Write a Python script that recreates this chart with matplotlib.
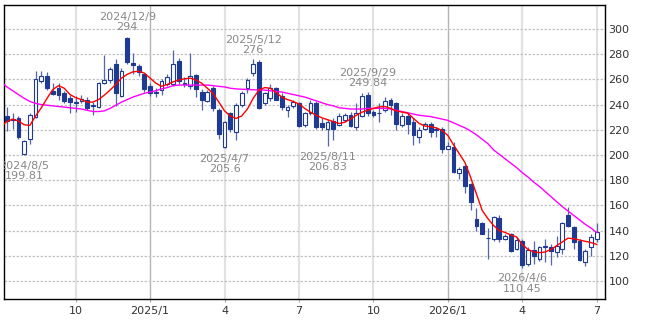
import numpy as np
import matplotlib
matplotlib.use("Agg")
import matplotlib.pyplot as plt

# weekly candles, week 0 = 2024/7/15 ... week 103 = 2026/7/6
opens = [231, 228.5, 229, 200.5, 213, 230, 258.6, 262.5, 251, 253,
         249.3, 245, 241.5, 243, 243.5, 238.5, 238.2, 257, 259.5, 272,
         246.5, 293, 273, 271, 264, 254.5, 250, 251.5, 256.5, 256,
         275, 256, 255, 263.5, 250, 243, 253, 236, 206.5, 233,
         218.5, 239.5, 253, 265, 274, 241.5, 245.5, 253, 246.5, 236,
         238.5, 241, 223.5, 233, 241, 225.5, 221, 227, 223.5, 227.5,
         231.5, 222.5, 231, 247.5, 234, 233, 236, 244, 241, 224,
         231, 226, 214, 221, 225, 219.8, 221, 205, 206, 186,
         191, 177, 149.5, 146, 134, 133, 150, 133.5, 137.5, 125,
         132, 113.5, 124.5, 117.5, 127, 127, 123, 125.5, 152, 143,
         132, 115, 127, 133]
highs = [238, 233, 231, 212, 233.5, 266.5, 267, 266, 257, 257,
         251, 247.5, 247, 247.5, 246, 242, 258, 279.5, 270, 276,
         269, 294, 281, 272, 265, 257, 252.8, 260, 264, 283.5,
         277, 262, 281, 264, 252, 251.5, 254.5, 237, 227, 234,
         241, 250.5, 261, 276, 275.5, 250, 256, 254, 249, 240,
         243.5, 242, 234.5, 243.5, 242.5, 229, 228, 229, 233, 233.5,
         234, 241, 249, 249.84, 236, 241, 246, 245, 242, 233,
         233, 229, 222, 226.5, 226.5, 222, 222, 210, 210.5, 190.5,
         192, 177.5, 158, 147, 142, 151.5, 152, 137.5, 138, 135,
         133, 127, 132, 128, 133, 129.5, 136, 147, 158.5, 144,
         133, 125.5, 137.5, 146]
lows = [219, 220.5, 213, 199.81, 209, 229.5, 257, 251.5, 247.5, 244,
        241, 233.5, 234, 241, 235.5, 232, 237.5, 256.5, 257, 239,
        246, 272.5, 264, 262.5, 250, 246.5, 246, 247.5, 255, 254.5,
        256, 254, 252, 246, 235.5, 242, 235, 213, 205.6, 218.3,
        211.7, 238, 249, 263, 236.5, 239.5, 243, 243.5, 235.5, 230,
        237.5, 222, 222, 231.5, 221, 219.5, 206.83, 212, 223, 226,
        222, 219.5, 230, 231, 230, 226, 234, 231.5, 220, 222,
        216.5, 208, 209.5, 220, 214.5, 214.5, 201.5, 204.5, 185.5, 181,
        169.5, 156.5, 140, 137, 117.5, 132, 131, 132.5, 123, 124.5,
        110.45, 112, 113.5, 116, 115, 112.5, 119, 121.5, 142.5, 125,
        116, 111.5, 119.5, 131]
closes = [227, 228, 214, 211, 232, 260, 263, 253.5, 248.5, 247.5,
          243, 242, 242, 244.5, 237.7, 239.5, 256.8, 259.5, 268, 249.5,
          266.5, 274, 271.5, 266, 252.5, 249.5, 249, 258.5, 262, 272.5,
          258.5, 257, 263, 252, 243.5, 250, 237, 217, 226, 221,
          239.5, 249, 259.5, 272.5, 237, 249, 253, 244, 238, 238,
          242, 223, 233.5, 241.5, 222, 222, 226, 221, 231, 231.5,
          223, 233.5, 246.5, 233, 232, 233.5, 243, 240, 225, 231,
          225, 215.5, 220, 225, 218.5, 221, 205, 207, 186.5, 189,
          175, 162.5, 144, 137.5, 134.5, 150.5, 133, 136, 124, 132.5,
          112.5, 124.5, 119.5, 127, 128, 124, 128, 146, 144, 131,
          117, 124, 135, 139]

# moving averages, from week -1 to week 103
ma_weeks = list(range(-1, 104))
ma_short = [223, 226.5, 228.5, 227, 224, 223.5, 231, 237.5, 245, 252, 255,
            253, 248, 245.5, 244, 242, 242, 244, 247.5, 251.5, 256,
            261, 264, 266, 266.5, 265, 261, 257, 254.5, 256, 258,
            259.5, 260.5, 261, 259.5, 257, 253, 248.8, 242, 235, 231,
            229, 231, 236.5, 245, 251.5, 253.5, 253, 249.5, 246, 244,
            242.5, 240.5, 237, 234, 231.5, 229.5, 228, 226.5, 225, 226,
            228.5, 231.5, 234, 235.5, 237, 238.2, 238.5, 237, 235, 234,
            233.2, 229, 225, 223, 222.5, 221.5, 219.5, 215.5, 208, 201,
            194, 182, 169, 156, 149.5, 144, 140, 138.5, 136.5, 135,
            129, 125, 123, 122.5, 123, 125, 128, 131, 134, 133.5,
            132.5, 131.5, 130.5, 129]
ma_long = [258, 254, 251, 248, 245, 242.5, 241, 240, 239.5, 239, 238.5,
           238, 237.5, 237, 236.5, 235.5, 234.5, 234.5, 235, 237, 239.5,
           242, 244, 246, 247.5, 249, 250, 251, 252.5, 253.5, 255,
           255.5, 255.5, 255.5, 255.5, 255.5, 255.5, 255, 254.5, 254, 253,
           252.5, 252.2, 252, 251.8, 251.6, 251.5, 251, 250.5, 250, 249,
           248, 247, 246, 244.5, 243, 241.5, 240, 239, 237.5, 237,
           236.5, 236.5, 236.5, 237, 237, 237, 237, 236.5, 235.5, 234.5,
           233.5, 232.5, 231.5, 231, 230.5, 229.5, 228.5, 227.5, 225.5, 223.5,
           221.5, 219, 216, 212.5, 209, 204, 200.5, 197, 193.5, 190,
           186, 182.5, 178.5, 175, 171, 167, 163, 159, 155.5, 152,
           148.5, 145, 142, 138.5]

tick_weeks = [12, 25, 38, 51, 64, 77, 90, 103]
tick_labels = ["10", "2025/1", "4", "7", "10", "2026/1", "4", "7"]
year_ticks = [25, 77]

# (week, high/low, date text, value)
marks = [
    (3, "low", "2024/8/5", 199.81),
    (21, "high", "2024/12/9", 294),
    (38, "low", "2025/4/7", 205.6),
    (43, "high", "2025/5/12", 276),
    (56, "low", "2025/8/11", 206.83),
    (63, "high", "2025/9/29", 249.84),
    (90, "low", "2026/4/6", 110.45),
]

body_col = "#1e3a92"
wick_col = "#5366a8"

o = np.array(opens)
h = np.array(highs)
l = np.array(lows)
c = np.array(closes)
x = np.arange(len(o))
up = c >= o

fig = plt.figure(figsize=(6.5, 3.25), dpi=100)
ax = fig.add_axes([4 / 650, 26 / 325, 601 / 650, 294.3 / 325])

ax.vlines(x, l, h, color=wick_col, lw=0.9, zorder=2)
ax.bar(x[up], np.maximum(c - o, 0.4)[up], bottom=o[up], width=0.66,
       facecolor="white", edgecolor=body_col, lw=0.8, zorder=3)
ax.bar(x[~up], (o - c)[~up], bottom=c[~up], width=0.66,
       facecolor=body_col, edgecolor=body_col, lw=0.8, zorder=3)

ax.plot(ma_weeks, ma_long, color="#ff00ff", lw=1, zorder=4)
ax.plot(ma_weeks, ma_short, color="#ff0000", lw=1, zorder=5)

for t in tick_weeks:
    if t in year_ticks:
        ax.axvline(t, color="#b4b4b4", lw=1, zorder=0)
    else:
        ax.axvline(t, color="#e2e2e2", lw=1.6, zorder=0)

ax.set_xlim(-0.52, 104.45)
ax.set_ylim(85.7, 319.3)
ax.set_xticks(tick_weeks, tick_labels)
ax.set_yticks(np.arange(100, 301, 20))
ax.yaxis.tick_right()
ax.grid(axis="y", color="#c4c4c4", lw=0.9, linestyle=(0, (2, 1.2)), zorder=0)
ax.tick_params(axis="x", length=2.5, pad=2.5, labelsize=8, colors="#333333")
ax.tick_params(axis="y", length=0, pad=2.5, labelsize=8, colors="#333333")
ax.tick_params(axis="x", color="#aaaaaa")
for s in ax.spines.values():
    s.set_color("black")
    s.set_linewidth(1)

for wk, kind, date, val in marks:
    txt = f"{date}\n{val:g}"
    if kind == "high":
        t = ax.annotate(txt, (wk, h[wk]), xytext=(0, 3), textcoords="offset points",
                        ha="center", va="bottom", fontsize=8, color="#888888",
                        linespacing=1.05, annotation_clip=False)
    else:
        t = ax.annotate(txt, (wk, l[wk]), xytext=(0, -4), textcoords="offset points",
                        ha="center", va="top", fontsize=8, color="#888888",
                        linespacing=1.05, annotation_clip=False)
    t.set_clip_on(True)
    t.set_clip_box(ax.bbox)

fig.savefig("out.png", dpi=100)
